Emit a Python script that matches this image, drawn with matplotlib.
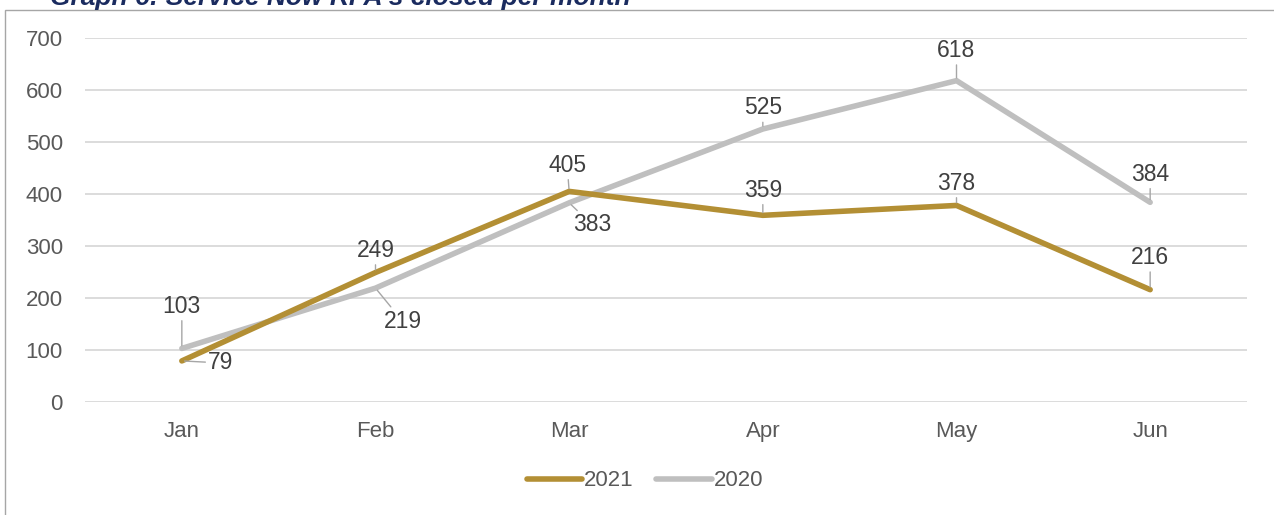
import matplotlib.pyplot as plt
from matplotlib.patches import Rectangle

plt.rcParams['font.family'] = ['Liberation Sans', 'DejaVu Sans']

months = ['Jan', 'Feb', 'Mar', 'Apr', 'May', 'Jun']
closed_2021 = [79, 249, 405, 359, 378, 216]
closed_2020 = [103, 219, 383, 525, 618, 384]
y_ticks = [0, 100, 200, 300, 400, 500, 600, 700]

# label offsets in pixels (dx, dy) from each point
offsets_2021 = [(39, -2), (0, 22), (-2, 26), (0, 25), (0, 22), (0, 32)]
offsets_2020 = [(0, 42), (27, -33), (23, -22), (0, 21), (0, 30), (0, 28)]

gold = '#B38F34'
grey = '#BFBFBF'

fig = plt.figure(figsize=(12.74, 5.15), dpi=100)
ax = fig.add_axes([85 / 1274, 113 / 515, (1247 - 85) / 1274, (402 - 38) / 515])

x = list(range(len(months)))
ax.plot(x, closed_2020, color=grey, lw=4, solid_capstyle='round',
        solid_joinstyle='miter', label='2020', zorder=3)
ax.plot(x, closed_2021, color=gold, lw=4, solid_capstyle='round',
        solid_joinstyle='miter', label='2021', zorder=4)

def add_labels(values, offsets):
    for i, (v, off) in enumerate(zip(values, offsets)):
        ax.annotate(str(v), (i, v), xytext=off, textcoords='offset pixels',
                    ha='center', va='center', fontsize=16.5, color='#404040',
                    arrowprops=dict(arrowstyle='-', color='#A6A6A6', lw=1.0,
                                    shrinkA=0, shrinkB=2), zorder=5)

add_labels(closed_2021, offsets_2021)
add_labels(closed_2020, offsets_2020)

ax.set_xlim(-0.5, len(months) - 0.5)
ax.set_ylim(0, 700)
ax.set_yticks(y_ticks)
ax.set_xticks(x)
ax.set_xticklabels(months)
ax.grid(axis='y', color='#D9D9D9', lw=1.3)
ax.set_axisbelow(True)
for s in ax.spines.values():
    s.set_visible(False)
ax.tick_params(length=0, labelsize=16, labelcolor='#595959')
ax.tick_params(axis='y', pad=16)
ax.tick_params(axis='x', pad=14)

handles, labels = ax.get_legend_handles_labels()
leg = fig.legend(handles[::-1], labels[::-1], loc='center',
                 bbox_to_anchor=(645 / 1274, 34 / 515), ncol=2, frameon=False,
                 fontsize=16, handlelength=2.5, handletextpad=0.1,
                 columnspacing=1.0)
for t in leg.get_texts():
    t.set_color('#595959')

# outer chart border (cut off at right and bottom)
fig.patches.append(Rectangle((5 / 1274, -0.1), 1.1, (515 - 10) / 515 + 0.1,
                             transform=fig.transFigure, fill=False,
                             edgecolor='#A6A6A6', lw=1.0))

# title, mostly cropped at top of the image
fig.text(50 / 1274, (515 - 5.5) / 515, "Graph 6: Service Now RFA's closed per month",
         fontsize=19, fontweight='bold', fontstyle='italic', color='#1A2B5F',
         ha='left', va='baseline')

fig.savefig('out.png', dpi=100)
